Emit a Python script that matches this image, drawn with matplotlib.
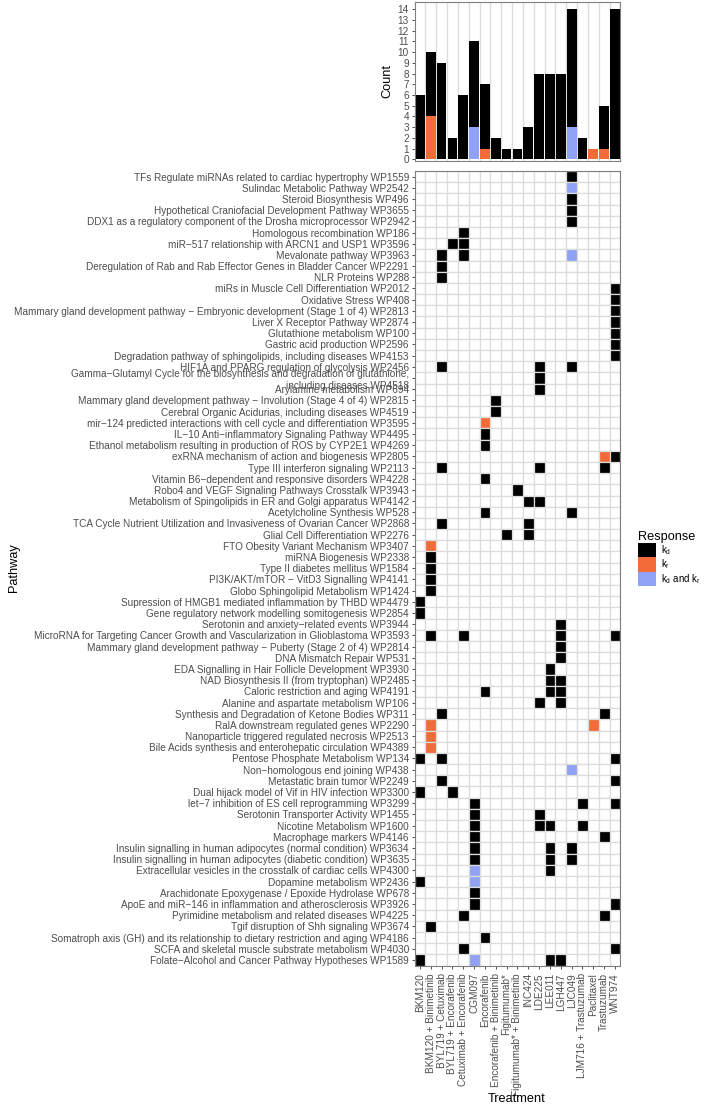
import matplotlib
matplotlib.use("Agg")
import matplotlib.pyplot as plt
from matplotlib.patches import Rectangle, Patch

plt.rcParams['font.family'] = ['Liberation Sans', 'DejaVu Sans']
plt.rcParams['mathtext.default'] = 'regular'

# ---------------- data ----------------
treatments = ["BKM120", "BKM120 + Binimetinib", "BYL719 + Cetuximab", "BYL719 + Encorafenib",
              "Cetuximab + Encorafenib", "CGM097", "Encorafenib", "Encorafenib + Binimetinib",
              "Figitumumab*", "Figitumumab* + Binimetinib", "INC424", "LDE225", "LEE011",
              "LGH447", "LJC049", "LJM716 + Trastuzumab", "Paclitaxel", "Trastuzumab", "WNT974"]

responses = ["kd", "kr", "kd and kr"]
response_labels = ["k$_{d}$", "k$_{r}$", "k$_{d}$ and k$_{r}$"]
response_colors = ["#000000", "#F26B38", "#8FA2F5"]

# bar chart counts per treatment
bar_kd   = [6, 6, 9, 2, 6, 8, 6, 2, 1, 1, 3, 8, 8, 8, 11, 2, 0, 4, 14]
bar_kr   = [0, 4, 0, 0, 0, 0, 1, 0, 0, 0, 0, 0, 0, 0, 0, 0, 1, 1, 0]
bar_both = [0, 0, 0, 0, 0, 3, 0, 0, 0, 0, 0, 0, 0, 0, 3, 0, 0, 0, 0]

pathways = [
    "TFs Regulate miRNAs related to cardiac hypertrophy WP1559",
    "Sulindac Metabolic Pathway WP2542",
    "Steroid Biosynthesis WP496",
    "Hypothetical Craniofacial Development Pathway WP3655",
    "DDX1 as a regulatory component of the Drosha microprocessor WP2942",
    "Homologous recombination WP186",
    "miR\u2212517 relationship with ARCN1 and USP1 WP3596",
    "Mevalonate pathway WP3963",
    "Deregulation of Rab and Rab Effector Genes in Bladder Cancer WP2291",
    "NLR Proteins WP288",
    "miRs in Muscle Cell Differentiation WP2012",
    "Oxidative Stress WP408",
    "Mammary gland development pathway \u2212 Embryonic development (Stage 1 of 4) WP2813",
    "Liver X Receptor Pathway WP2874",
    "Glutathione metabolism WP100",
    "Gastric acid production WP2596",
    "Degradation pathway of sphingolipids, including diseases WP4153",
    "HIF1A and PPARG regulation of glycolysis WP2456",
    "Gamma\u2212Glutamyl Cycle for the biosynthesis and degradation of glutathione,\nincluding diseases WP4518",
    "Arylamine metabolism WP694",
    "Mammary gland development pathway \u2212 Involution (Stage 4 of 4) WP2815",
    "Cerebral Organic Acidurias, including diseases WP4519",
    "mir\u2212124 predicted interactions with cell cycle and differentiation WP3595",
    "IL\u221210 Anti\u2212inflammatory Signaling Pathway WP4495",
    "Ethanol metabolism resulting in production of ROS by CYP2E1 WP4269",
    "exRNA mechanism of action and biogenesis WP2805",
    "Type III interferon signaling WP2113",
    "Vitamin B6\u2212dependent and responsive disorders WP4228",
    "Robo4 and VEGF Signaling Pathways Crosstalk WP3943",
    "Metabolism of Spingolipids in ER and Golgi apparatus WP4142",
    "Acetylcholine Synthesis WP528",
    "TCA Cycle Nutrient Utilization and Invasiveness of Ovarian Cancer WP2868",
    "Glial Cell Differentiation WP2276",
    "FTO Obesity Variant Mechanism WP3407",
    "miRNA Biogenesis WP2338",
    "Type II diabetes mellitus WP1584",
    "PI3K/AKT/mTOR \u2212 VitD3 Signalling WP4141",
    "Globo Sphingolipid Metabolism WP1424",
    "Supression of HMGB1 mediated inflammation by THBD WP4479",
    "Gene regulatory network modelling somitogenesis WP2854",
    "Serotonin and anxiety\u2212related events WP3944",
    "MicroRNA for Targeting Cancer Growth and Vascularization in Glioblastoma WP3593",
    "Mammary gland development pathway \u2212 Puberty (Stage 2 of 4) WP2814",
    "DNA Mismatch Repair WP531",
    "EDA Signalling in Hair Follicle Development WP3930",
    "NAD Biosynthesis II (from tryptophan) WP2485",
    "Caloric restriction and aging WP4191",
    "Alanine and aspartate metabolism WP106",
    "Synthesis and Degradation of Ketone Bodies WP311",
    "RalA downstream regulated genes WP2290",
    "Nanoparticle triggered regulated necrosis WP2513",
    "Bile Acids synthesis and enterohepatic circulation WP4389",
    "Pentose Phosphate Metabolism WP134",
    "Non\u2212homologous end joining WP438",
    "Metastatic brain tumor WP2249",
    "Dual hijack model of Vif in HIV infection WP3300",
    "let\u22127 inhibition of ES cell reprogramming WP3299",
    "Serotonin Transporter Activity WP1455",
    "Nicotine Metabolism WP1600",
    "Macrophage markers WP4146",
    "Insulin signalling in human adipocytes (normal condition) WP3634",
    "Insulin signalling in human adipocytes (diabetic condition) WP3635",
    "Extracellular vesicles in the crosstalk of cardiac cells WP4300",
    "Dopamine metabolism WP2436",
    "Arachidonate Epoxygenase / Epoxide Hydrolase WP678",
    "ApoE and miR\u2212146 in inflammation and atherosclerosis WP3926",
    "Pyrimidine metabolism and related diseases WP4225",
    "Tgif disruption of Shh signaling WP3674",
    "Somatroph axis (GH) and its relationship to dietary restriction and aging WP4186",
    "SCFA and skeletal muscle substrate metabolism WP4030",
    "Folate\u2212Alcohol and Cancer Pathway Hypotheses WP1589",
]

# hits per pathway (same order as pathways): (treatment, response)
pathway_hits = [
    [("LJC049", "kd")],
    [("LJC049", "kd and kr")],
    [("LJC049", "kd")],
    [("LJC049", "kd")],
    [("LJC049", "kd")],
    [("Cetuximab + Encorafenib", "kd")],
    [("BYL719 + Encorafenib", "kd"), ("Cetuximab + Encorafenib", "kd")],
    [("BYL719 + Cetuximab", "kd"), ("Cetuximab + Encorafenib", "kd"), ("LJC049", "kd and kr")],
    [("BYL719 + Cetuximab", "kd")],
    [("BYL719 + Cetuximab", "kd")],
    [("WNT974", "kd")],
    [("WNT974", "kd")],
    [("WNT974", "kd")],
    [("WNT974", "kd")],
    [("WNT974", "kd")],
    [("WNT974", "kd")],
    [("WNT974", "kd")],
    [("BYL719 + Cetuximab", "kd"), ("LDE225", "kd"), ("LJC049", "kd")],
    [("LDE225", "kd")],
    [("LDE225", "kd")],
    [("Encorafenib + Binimetinib", "kd")],
    [("Encorafenib + Binimetinib", "kd")],
    [("Encorafenib", "kr")],
    [("Encorafenib", "kd")],
    [("Encorafenib", "kd")],
    [("Trastuzumab", "kr"), ("WNT974", "kd")],
    [("BYL719 + Cetuximab", "kd"), ("LDE225", "kd"), ("Trastuzumab", "kd")],
    [("Encorafenib", "kd")],
    [("Figitumumab* + Binimetinib", "kd")],
    [("INC424", "kd"), ("LDE225", "kd")],
    [("Encorafenib", "kd"), ("LJC049", "kd")],
    [("BYL719 + Cetuximab", "kd"), ("INC424", "kd")],
    [("Figitumumab*", "kd"), ("INC424", "kd")],
    [("BKM120 + Binimetinib", "kr")],
    [("BKM120 + Binimetinib", "kd")],
    [("BKM120 + Binimetinib", "kd")],
    [("BKM120 + Binimetinib", "kd")],
    [("BKM120 + Binimetinib", "kd")],
    [("BKM120", "kd")],
    [("BKM120", "kd")],
    [("LGH447", "kd")],
    [("BKM120 + Binimetinib", "kd"), ("Cetuximab + Encorafenib", "kd"), ("LGH447", "kd"), ("WNT974", "kd")],
    [("LGH447", "kd")],
    [("LGH447", "kd")],
    [("LEE011", "kd")],
    [("LEE011", "kd"), ("LGH447", "kd")],
    [("Encorafenib", "kd"), ("LEE011", "kd"), ("LGH447", "kd")],
    [("LDE225", "kd"), ("LGH447", "kd")],
    [("BYL719 + Cetuximab", "kd"), ("Trastuzumab", "kd")],
    [("BKM120 + Binimetinib", "kr"), ("Paclitaxel", "kr")],
    [("BKM120 + Binimetinib", "kr")],
    [("BKM120 + Binimetinib", "kr")],
    [("BKM120", "kd"), ("BYL719 + Cetuximab", "kd"), ("WNT974", "kd")],
    [("LJC049", "kd and kr")],
    [("BYL719 + Cetuximab", "kd"), ("WNT974", "kd")],
    [("BKM120", "kd"), ("BYL719 + Encorafenib", "kd")],
    [("CGM097", "kd"), ("LJM716 + Trastuzumab", "kd"), ("WNT974", "kd")],
    [("CGM097", "kd"), ("LDE225", "kd")],
    [("CGM097", "kd"), ("LDE225", "kd"), ("LEE011", "kd"), ("LJM716 + Trastuzumab", "kd")],
    [("CGM097", "kd"), ("Trastuzumab", "kd")],
    [("CGM097", "kd"), ("LEE011", "kd"), ("LJC049", "kd")],
    [("CGM097", "kd"), ("LEE011", "kd"), ("LJC049", "kd")],
    [("CGM097", "kd and kr"), ("LEE011", "kd")],
    [("BKM120", "kd"), ("CGM097", "kd and kr")],
    [("CGM097", "kd")],
    [("CGM097", "kd"), ("WNT974", "kd")],
    [("Cetuximab + Encorafenib", "kd"), ("Trastuzumab", "kd")],
    [("BKM120 + Binimetinib", "kd")],
    [("Encorafenib", "kd")],
    [("Cetuximab + Encorafenib", "kd"), ("WNT974", "kd")],
    [("BKM120", "kd"), ("CGM097", "kd and kr"), ("LEE011", "kd"), ("LGH447", "kd")],
]

# ---------------- figure ----------------
W, H = 709, 1108
fig = plt.figure(figsize=(W / 100, H / 100), dpi=100)


def rect(l, t, r, b):
    return [l / W, 1 - b / H, (r - l) / W, (b - t) / H]


tick_col = "#4D4D4D"
grid_col = "#DCDCDC"
border_col = "#7F7F7F"
fs_tick = 7.2
fs_title = 9.2

nT = len(treatments)
nP = len(pathways)
color_of = dict(zip(responses, response_colors))
tidx = {t: i for i, t in enumerate(treatments)}

# ---- top bar chart ----
axb = fig.add_axes(rect(414.5, 1.7, 620.4, 160.7))
x = list(range(nT))
for xv in [i + 0.5 for i in range(nT - 1)]:
    axb.axvline(xv, color=grid_col, lw=1.0, zorder=0)
bottom = [0] * nT
for vals, resp in [(bar_both, "kd and kr"), (bar_kr, "kr"), (bar_kd, "kd")]:
    axb.bar(x, vals, bottom=bottom, width=0.9, color=color_of[resp], zorder=2, linewidth=0)
    bottom = [b + v for b, v in zip(bottom, vals)]
axb.set_xlim(-0.5, nT - 0.5)
axb.set_ylim(-0.12, 14.7)
axb.set_yticks(range(0, 15))
axb.set_xticks([])
axb.tick_params(axis='y', labelsize=fs_tick, labelcolor=tick_col, color="#333333",
                length=2.5, width=0.6, pad=1.5)
for s in axb.spines.values():
    s.set_color(border_col)
    s.set_linewidth(0.8)
axb.set_ylabel("Count", fontsize=fs_title, labelpad=3)

# ---- heatmap ----
axh = fig.add_axes(rect(414.5, 171, 620.4, 965.5))
for i in range(nP):
    for j in range(nT):
        axh.add_patch(Rectangle((j - 0.5, i - 0.5), 1, 1, facecolor="white",
                                edgecolor=grid_col, linewidth=0.9, zorder=1))
for i, hits in enumerate(pathway_hits):
    for t, resp in hits:
        j = tidx[t]
        axh.add_patch(Rectangle((j - 0.5, i - 0.5), 1, 1, facecolor=color_of[resp],
                                edgecolor=grid_col, linewidth=0.9, zorder=2))
axh.set_xlim(-0.5, nT - 0.5)
axh.set_ylim(nP - 0.5, -0.5)
axh.set_yticks(range(nP))
axh.set_yticklabels(pathways, fontsize=fs_tick, color=tick_col)
for lab in axh.get_yticklabels():
    lab.set_multialignment('right')
axh.set_xticks(range(nT))
axh.set_xticklabels(treatments, rotation=90, fontsize=fs_tick, color=tick_col,
                    ha='center', va='top')
axh.tick_params(axis='both', color="#333333", length=2.5, width=0.6, pad=1.5)
axh.tick_params(axis='x', pad=3)
for s in axh.spines.values():
    s.set_color(border_col)
    s.set_linewidth(0.8)
    s.set_zorder(5)

fig.text(8 / W, 1 - 568 / H, "Pathway", rotation=90, fontsize=fs_title,
         ha='left', va='center')
fig.text(517 / W, 1 - 1099 / H, "Treatment", fontsize=fs_title, ha='center', va='center')

# ---- legend ----
handles = [Patch(facecolor=c, edgecolor='none') for c in response_colors]
leg = fig.legend(handles, response_labels, loc='upper left',
                 bbox_to_anchor=(638 / W, 1 - 531 / H), frameon=False,
                 title="Response", title_fontsize=fs_title, fontsize=7.0,
                 handlelength=1.9, handleheight=1.9, labelspacing=0.0,
                 handletextpad=0.5, borderpad=0.0, borderaxespad=0.0)
leg._legend_box.align = "left"

fig.savefig("out.png", dpi=100)
